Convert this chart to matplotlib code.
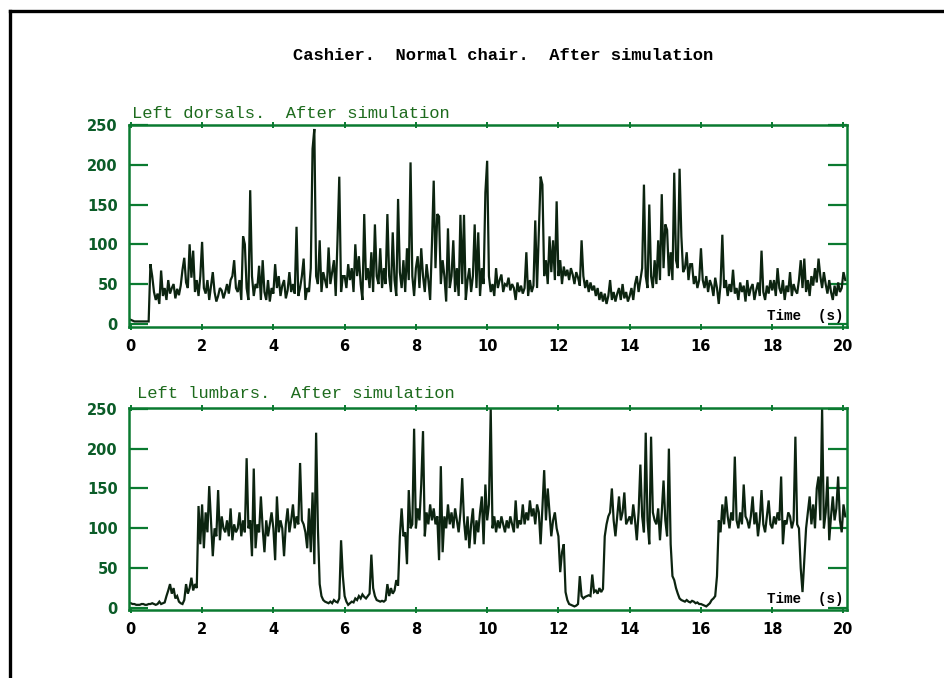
import matplotlib
matplotlib.use("Agg")
import matplotlib.pyplot as plt
from matplotlib.lines import Line2D
import numpy as np

# EMG envelopes, one sample every 0.05 s (one row per second)
dt = 0.05
dorsal = [
    5, 4, 3, 3, 3, 3, 3, 3, 3, 3, 3, 75, 60, 40, 30, 38, 25, 67, 35, 45,
    30, 55, 38, 45, 50, 32, 44, 36, 48, 68, 83, 52, 45, 100, 58, 92, 40, 55, 35, 60,
    103, 45, 38, 55, 30, 48, 65, 40, 28, 35, 45, 42, 32, 40, 50, 38, 55, 60, 80, 45,
    40, 55, 30, 110, 100, 45, 30, 168, 60, 35, 50, 45, 73, 30, 80, 40, 30, 55, 28, 45,
    38, 75, 45, 60, 35, 48, 55, 32, 42, 65, 40, 50, 38, 122, 35, 45, 60, 82, 30, 45,
    40, 70, 220, 245, 60, 50, 105, 40, 65, 55, 45, 96, 50, 65, 80, 35, 105, 185, 40, 60,
    60, 45, 75, 55, 70, 40, 100, 60, 85, 50, 30, 138, 55, 70, 45, 90, 40, 125, 60, 50,
    95, 45, 70, 50, 138, 60, 40, 115, 55, 35, 157, 65, 45, 80, 40, 95, 55, 203, 60, 35,
    70, 85, 45, 95, 60, 40, 75, 55, 30, 100, 180, 70, 138, 135, 50, 80, 60, 28, 120, 45,
    60, 105, 40, 70, 35, 137, 50, 137, 30, 55, 70, 40, 60, 125, 45, 115, 35, 70, 50, 165,
    205, 60, 40, 50, 35, 70, 45, 55, 62, 40, 50, 48, 58, 42, 50, 45, 30, 52, 40, 48,
    38, 45, 90, 35, 55, 40, 48, 130, 45, 115, 185, 175, 60, 80, 50, 110, 65, 105, 55, 154,
    60, 80, 50, 72, 60, 68, 55, 70, 62, 50, 65, 58, 48, 105, 60, 45, 55, 40, 52, 42,
    48, 35, 45, 30, 40, 28, 38, 25, 35, 55, 30, 40, 28, 38, 45, 30, 50, 32, 40, 28,
    35, 45, 30, 50, 60, 40, 55, 70, 175, 60, 45, 150, 60, 45, 80, 50, 105, 55, 163, 70,
    125, 118, 60, 90, 55, 190, 80, 70, 195, 110, 65, 70, 90, 55, 75, 75, 50, 60, 45, 55,
    95, 55, 45, 60, 40, 55, 48, 35, 58, 45, 25, 50, 112, 45, 55, 35, 50, 40, 68, 38,
    45, 30, 52, 40, 48, 28, 55, 35, 45, 50, 30, 42, 52, 35, 92, 40, 30, 48, 38, 55,
    42, 55, 35, 70, 45, 38, 55, 30, 48, 40, 65, 35, 50, 42, 38, 55, 80, 45, 82, 40,
    55, 35, 60, 48, 70, 52, 82, 60, 45, 65, 50, 38, 55, 40, 30, 48, 35, 52, 40, 45,
    65, 55,
]
lumbar = [
    6, 5, 5, 4, 4, 4, 5, 5, 4, 4, 5, 5, 6, 5, 4, 5, 8, 5, 6, 7,
    15, 22, 30, 18, 25, 12, 15, 8, 6, 5, 10, 30, 18, 25, 38, 22, 30, 25, 128, 80,
    130, 75, 120, 95, 153, 110, 65, 100, 90, 148, 85, 115, 100, 95, 110, 90, 125, 85, 105, 95,
    100, 120, 90, 110, 95, 188, 100, 110, 65, 175, 75, 105, 95, 140, 100, 70, 110, 90, 105, 120,
    100, 60, 140, 95, 110, 100, 65, 105, 125, 95, 110, 130, 100, 115, 105, 182, 110, 105, 95, 75,
    125, 70, 145, 55, 220, 100, 30, 15, 10, 8, 7, 6, 8, 6, 10, 8, 7, 12, 85, 40,
    15, 8, 4, 6, 8, 7, 12, 10, 15, 12, 17, 14, 12, 15, 18, 67, 25, 15, 10, 9,
    8, 9, 8, 10, 30, 15, 25, 18, 22, 35, 28, 90, 125, 90, 95, 55, 148, 100, 105, 225,
    100, 125, 110, 155, 222, 90, 120, 105, 130, 110, 125, 105, 115, 60, 178, 70, 115, 100, 130, 105,
    120, 100, 125, 110, 95, 120, 163, 110, 85, 115, 75, 105, 125, 80, 110, 95, 120, 140, 80, 155,
    110, 130, 250, 100, 115, 95, 110, 100, 115, 105, 95, 110, 100, 115, 105, 95, 135, 100, 110, 105,
    130, 105, 120, 110, 135, 115, 125, 105, 130, 120, 80, 125, 173, 110, 150, 120, 90, 110, 120, 100,
    90, 45, 70, 80, 20, 10, 5, 4, 3, 2, 3, 5, 40, 15, 12, 14, 15, 16, 15, 42,
    20, 22, 18, 25, 20, 24, 90, 105, 115, 120, 150, 110, 90, 115, 140, 110, 120, 145, 105, 110,
    115, 105, 130, 110, 85, 120, 180, 115, 95, 220, 110, 80, 215, 120, 110, 105, 125, 85, 120, 160,
    110, 90, 200, 80, 40, 35, 25, 18, 12, 10, 9, 8, 10, 8, 7, 9, 8, 6, 7, 5,
    5, 4, 3, 2, 4, 6, 10, 12, 15, 40, 110, 95, 130, 105, 140, 115, 100, 120, 110, 190,
    110, 100, 120, 105, 155, 115, 110, 100, 115, 140, 105, 120, 90, 110, 148, 105, 95, 115, 135, 105,
    100, 115, 105, 120, 110, 165, 80, 110, 105, 120, 115, 100, 110, 215, 105, 100, 50, 20, 60, 100,
    120, 140, 105, 130, 100, 150, 165, 110, 250, 100, 120, 165, 85, 115, 140, 110, 125, 165, 110, 95,
    130, 115,
]

main_title = "Cashier.  Normal chair.  After simulation"
panel_titles = ["Left dorsals.  After simulation", "Left lumbars.  After simulation"]
xticks = [0, 2, 4, 6, 8, 10, 12, 14, 16, 18, 20]
yticks = [0, 50, 100, 150, 200, 250]

axis_green = "#0a7a30"
label_green = "#0b5c28"
title_green = "#1d6b1d"
trace_color = "#0c2410"

fig = plt.figure(figsize=(9.44, 6.78), dpi=100)
fig.patch.set_facecolor("white")

# page frame: left and top edges
fig.add_artist(Line2D([9.5 / 944, 9.5 / 944], [0, 1 - 11 / 678], color="black", lw=2.4))
fig.add_artist(Line2D([9.5 / 944, 1], [1 - 11 / 678, 1 - 11 / 678], color="black", lw=2.4))

fig.text(503 / 944, 1 - 56 / 678, main_title, ha="center", va="center",
         fontfamily="Liberation Mono", fontweight="bold", fontsize=12.3, color="black")

panels = [
    (dorsal, panel_titles[0], [0.1367, 1 - 327 / 678, 0.7606, 202 / 678], (-4, 250), 132, 113),
    (lumbar, panel_titles[1], [0.1367, 1 - 610 / 678, 0.7606, 202 / 678], (-2.5, 251), 137, 394),
]

for values, title, rect, ylim, tx, ty in panels:
    ax = fig.add_axes(rect)
    t = np.arange(len(values)) * dt
    ax.plot(t, values, color=trace_color, lw=1.6, solid_joinstyle="miter")
    ax.set_xlim(-0.05, 20.1)
    ax.set_ylim(*ylim)
    for s in ax.spines.values():
        s.set_color(axis_green)
        s.set_linewidth(1.8)
    ax.set_xticks(xticks)
    ax.set_yticks(yticks)
    ax.tick_params(axis="y", which="both", direction="in", length=14, width=1.6,
                   color=axis_green, left=True, right=True, labelleft=True,
                   labelcolor=label_green, labelsize=10.5, pad=8)
    ax.tick_params(axis="x", which="both", direction="inout", length=5, width=1.4,
                   color=axis_green, top=True, bottom=True,
                   labelcolor="black", labelsize=10.5, pad=6)
    for lab in ax.get_xticklabels() + ax.get_yticklabels():
        lab.set_fontweight("bold")
    ax.text(0.995, 0.02, "Time  (s)", transform=ax.transAxes, ha="right", va="bottom",
            fontfamily="Liberation Mono", fontweight="bold", fontsize=10.3, color="black")
    fig.text(tx / 944, 1 - ty / 678, title, ha="left", va="center",
             fontfamily="Liberation Mono", fontsize=12.3, color=title_green)

fig.savefig("out.png", dpi=100, facecolor="white")
